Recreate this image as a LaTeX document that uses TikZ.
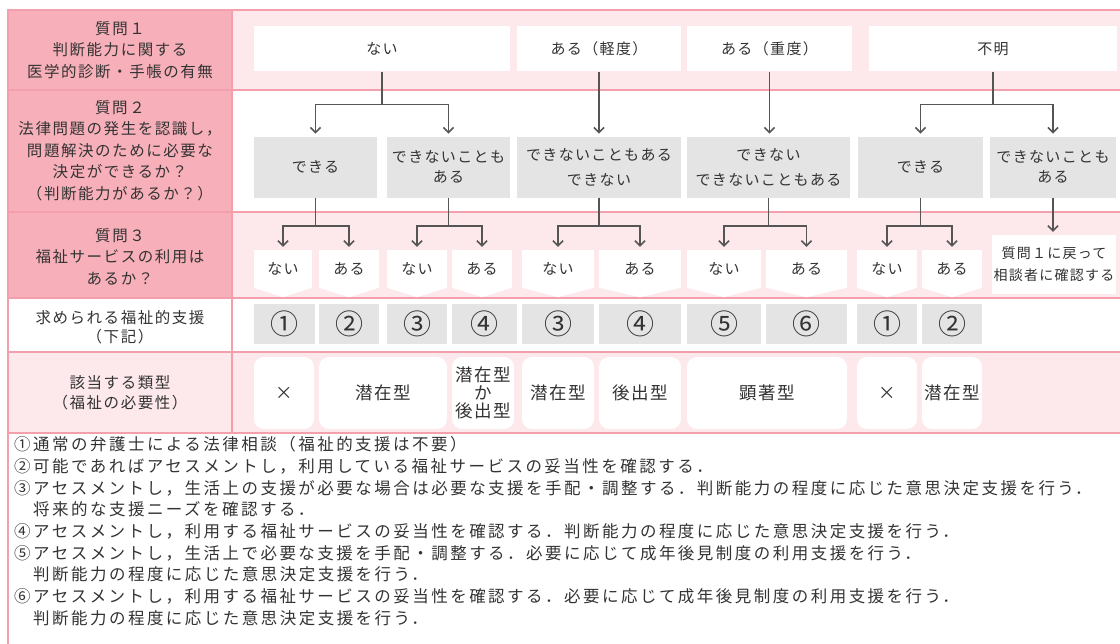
\documentclass[tikz,border=0pt]{standalone}
\usepackage{fontspec}
\setmainfont{Noto Sans CJK JP}
\newfontfamily\jplabel{Noto Sans CJK JP}[LetterSpace=10]
\newfontfamily\jpbox{Noto Sans CJK JP}[LetterSpace=9]
\newfontfamily\jpnote{Noto Sans CJK JP}[LetterSpace=15]
\usetikzlibrary{arrows.meta}

\definecolor{rosedark}{HTML}{F7B0BA}
\definecolor{roselight}{HTML}{FDE8EC}
\definecolor{roseline}{HTML}{F4A0AC}
\definecolor{boxgray}{HTML}{E4E4E4}
\definecolor{inkgray}{HTML}{333333}
\definecolor{arrowgray}{HTML}{555555}

\begin{document}
\begin{tikzpicture}[x = 1pt, y = -1pt, text = inkgray,
    question/.style = {align = center, font = \jplabel\fontsize{15.5}{21.5}\selectfont},
    diagnosis/.style = {fill = white, minimum height = 45pt, inner sep = 0pt, font = \jpbox\fontsize{15}{22}\selectfont},
    ability/.style = {fill = boxgray, minimum height = 61pt, inner sep = 0pt, align = center, font = \jpbox\fontsize{15}{20}\selectfont},
    usage/.style = {fill = white, minimum height = 38pt, inner sep = 0pt, font = \jpbox\fontsize{15}{22}\selectfont},
    support/.style = {fill = boxgray, minimum height = 40pt, inner sep = 0pt, font = \fontsize{28}{30}\selectfont},
    kind/.style = {fill = white, rounded corners = 10pt, minimum height = 72pt, inner sep = 0pt, align = center, font = \jpbox\fontsize{17.5}{18}\selectfont},
    note/.style = {anchor = west, inner sep = 0pt, text height = 14pt, text depth = 2.5pt, font = \jpnote\fontsize{16.5}{21}\selectfont},
    arr/.style = {draw = arrowgray, line width = 1.6pt, -{Straight Barb[length = 5pt, width = 10pt]}, shorten >= 3pt},
    tableline/.style = {draw = roseline, line width = 1.3pt}]
\useasboundingbox (0,0) rectangle (1120,644);

% bands of the table
\fill[rosedark] (8,10) rectangle (232,298);
\fill[roselight] (232,10) rectangle (1120,90);
\fill[roselight] (232,212) rectangle (1120,298);
\fill[roselight] (8,352) rectangle (1120,433);
\draw[tableline] (1120,10) -- (8,10) -- (8,644);
\foreach \y in {90,212,298,352,433}
  \draw[tableline] (8,\y) -- (1120,\y);
\draw[tableline] (232,10) -- (232,433);

% left column
\node[question] (q1) at (120,50) {質問１\\判断能力に関する\\医学的診断・手帳の有無};
\node[question] (q2) at (120,150.5) {質問２\\法律問題の発生を認識し，\\問題解決のために必要な\\決定ができるか？\\（判断能力があるか？）};
\node[question] (q3) at (120,256.5) {質問３\\福祉サービスの利用は\\あるか？};
\node[question] (q4) at (120,327) {求められる福祉的支援\\[-2pt]（下記）};
\node[question] (q5) at (120,392.5) {該当する類型\\[-2pt]（福祉の必要性）};

% question 1
\node[diagnosis, minimum width = 256pt] (m1) at (382,49) {ない};
\node[diagnosis, minimum width = 164pt] (m2) at (599,49) {ある（軽度）};
\node[diagnosis, minimum width = 165pt] (m3) at (769.5,49) {ある（重度）};
\node[diagnosis, minimum width = 248pt] (m4) at (993,49) {不明};

% question 2
\node[ability, minimum width = 123pt] (c1) at (315.5,167.3) {できる};
\node[ability, minimum width = 123pt] (c2) at (448.5,167.3) {できないことも\\ある};
\node[ability, minimum width = 164pt] (c3) at (599,167.3) {できないこともある\\[5pt]できない};
\node[ability, minimum width = 163pt] (c4) at (768.5,167.3) {できない\\[5pt]できないこともある};
\node[ability, minimum width = 125pt] (c5) at (920.5,167.3) {できる};
\node[ability, minimum width = 126pt] (c6) at (1053,167.3) {できないことも\\ある};

% question 3
\node[usage, minimum width = 58pt] (u1) at (283,269) {ない};
\node[usage, minimum width = 60pt] (u2) at (349,269) {ある};
\node[usage, minimum width = 60pt] (u3) at (417,269) {ない};
\node[usage, minimum width = 60pt] (u4) at (482,269) {ある};
\node[usage, minimum width = 72pt] (u5) at (558,269) {ない};
\node[usage, minimum width = 82pt] (u6) at (640,269) {ある};
\node[usage, minimum width = 74pt] (u7) at (724,269) {ない};
\node[usage, minimum width = 81pt] (u8) at (806.5,269) {ある};
\node[usage, minimum width = 60pt] (u9) at (887,269) {ない};
\node[usage, minimum width = 60pt] (u10) at (952,269) {ある};
\foreach \i in {1,...,10}
  \fill[white] ([yshift = 0.5pt]u\i.south west) -- ([yshift = 0.5pt]u\i.south east) -- ([yshift = -9pt]u\i.south) -- cycle;
\node[usage, minimum width = 124pt, minimum height = 59pt, align = center, font = \jpbox\fontsize{14}{22}\selectfont] (back) at (1054,264.5) {質問１に戻って\\相談者に確認する};

% support
\node[support, minimum width = 61pt] (s1) at (284.5,324) {①};
\node[support, minimum width = 60pt] (s2) at (349,324) {②};
\node[support, minimum width = 60pt] (s3) at (417,324) {③};
\node[support, minimum width = 65pt] (s4) at (484.5,324) {④};
\node[support, minimum width = 72pt] (s5) at (558,324) {③};
\node[support, minimum width = 82pt] (s6) at (640,324) {④};
\node[support, minimum width = 74pt] (s7) at (724,324) {⑤};
\node[support, minimum width = 81pt] (s8) at (806.5,324) {⑥};
\node[support, minimum width = 60pt] (s9) at (887,324) {①};
\node[support, minimum width = 60pt] (s10) at (952,324) {②};

% types
\node[kind, minimum width = 60pt] (t1) at (284,393) {×};
\node[kind, minimum width = 128pt] (t2) at (383,393) {潜在型};
\node[kind, minimum width = 62pt] (t3) at (483,393) {潜在型\\か\\後出型};
\node[kind, minimum width = 72pt] (t4) at (558,393) {潜在型};
\node[kind, minimum width = 82pt] (t5) at (640,393) {後出型};
\node[kind, minimum width = 160pt] (t6) at (767,393) {顕著型};
\node[kind, minimum width = 60pt] (t7) at (887,393) {×};
\node[kind, minimum width = 60pt] (t8) at (952,393) {潜在型};

% arrows
\draw[arr] (m1.south) -- ++(0,33) -| (c1.north);
\draw[arr] (m1.south) -- ++(0,33) -| (c2.north);
\draw[arr] (m2.south) -- (m2.south |- c3.north);
\draw[arr] (m3.south) -- (m3.south |- c4.north);
\draw[arr] (m4.south) -- ++(0,33) -| (c5.north);
\draw[arr] (m4.south) -- ++(0,33) -| (c6.north);
\draw[arr] (c1.south) -- ++(0,28) -| (u1.north);
\draw[arr] (c1.south) -- ++(0,28) -| (u2.north);
\draw[arr] (c2.south) -- ++(0,28) -| (u3.north);
\draw[arr] (c2.south) -- ++(0,28) -| (u4.north);
\draw[arr] (c3.south) -- ++(0,28) -| (u5.north);
\draw[arr] (c3.south) -- ++(0,28) -| (u6.north);
\draw[arr] (c4.south) -- ++(0,28) -| (u7.north);
\draw[arr] (c4.south) -- ++(0,28) -| (u8.north);
\draw[arr] (c5.south) -- ++(0,28) -| (u9.north);
\draw[arr] (c5.south) -- ++(0,28) -| (u10.north);
\draw[arr] (c6.south) -- (c6.south |- back.north);

% notes
\foreach \txt [count = \i] in {
  ①通常の弁護士による法律相談（福祉的支援は不要）,
  ②可能であればアセスメントし，利用している福祉サービスの妥当性を確認する．,
  ③アセスメントし，生活上の支援が必要な場合は必要な支援を手配・調整する．判断能力の程度に応じた意思決定支援を行う．,
  　将来的な支援ニーズを確認する．,
  ④アセスメントし，利用する福祉サービスの妥当性を確認する．判断能力の程度に応じた意思決定支援を行う．,
  ⑤アセスメントし，生活上で必要な支援を手配・調整する．必要に応じて成年後見制度の利用支援を行う．,
  　判断能力の程度に応じた意思決定支援を行う．,
  ⑥アセスメントし，利用する福祉サービスの妥当性を確認する．必要に応じて成年後見制度の利用支援を行う．,
  　判断能力の程度に応じた意思決定支援を行う．}
  \node[note] (note\i) at (14,423.3 + 21.67 * \i) {\txt};
\end{tikzpicture}
\end{document}
